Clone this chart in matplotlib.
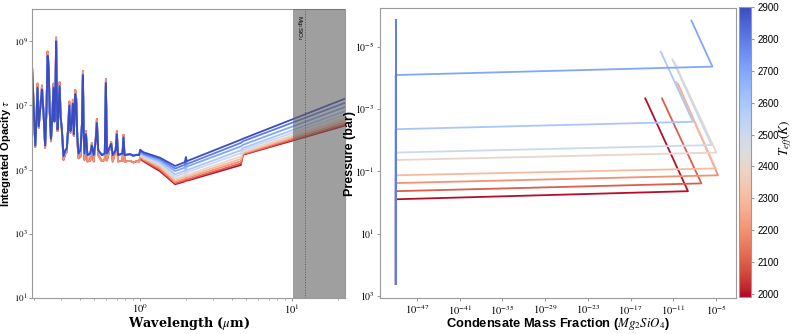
import numpy as np
import matplotlib
matplotlib.use("Agg")
import matplotlib.pyplot as plt
from matplotlib import ticker
from matplotlib.colors import Normalize
from matplotlib.cm import ScalarMappable

plt.rcParams['mathtext.fontset'] = 'stix'
plt.rcParams['font.family'] = ['Liberation Sans', 'DejaVu Sans']

# -------------------------
# Data
# -------------------------
temps = [2000, 2100, 2200, 2300, 2400, 2500, 2600, 2700, 2800, 2900]
t_min, t_max = 1990, 2900

# visible / spiky part of the opacity spectra (micron, log10 tau)
wl_vis = [0.195, 0.199, 0.204, 0.208, 0.211, 0.215, 0.220, 0.226, 0.231, 0.237,
          0.242, 0.246, 0.250, 0.254, 0.259, 0.264, 0.269, 0.273, 0.277, 0.280,
          0.283, 0.286, 0.290, 0.295, 0.300, 0.305, 0.313, 0.322, 0.329, 0.336,
          0.342, 0.348, 0.355, 0.361, 0.366, 0.370, 0.374, 0.380, 0.386, 0.393,
          0.405, 0.414, 0.420, 0.425, 0.430, 0.440, 0.450, 0.470, 0.481, 0.495,
          0.510, 0.519, 0.530, 0.560, 0.585, 0.595, 0.605, 0.645, 0.660, 0.690,
          0.703, 0.715, 0.765, 0.777, 0.790, 0.860, 0.900, 0.950, 0.985]
vis_hot = [8.00, 7.00, 5.75, 6.60, 7.55, 6.35, 6.90, 7.50, 6.80, 5.75,
           6.90, 8.55, 8.15, 6.80, 5.95, 6.60, 7.55, 6.50, 7.40, 9.00,
           7.30, 6.25, 6.80, 7.60, 6.60, 6.30, 5.42, 5.60, 5.65, 6.30,
           7.00, 6.20, 6.50, 7.05, 6.10, 6.60, 7.35, 7.10, 6.00, 5.50,
           5.60, 6.40, 7.95, 6.20, 5.50, 6.10, 5.45, 5.50, 5.75, 5.45,
           5.90, 6.45, 5.60, 5.45, 5.50, 7.70, 5.50, 5.80, 5.45, 5.60,
           6.10, 5.45, 5.50, 6.00, 5.45, 5.48, 5.43, 5.46, 5.45]
vis_cool = [8.12, 7.05, 5.70, 6.65, 7.68, 6.30, 6.95, 7.62, 6.80, 5.68,
            6.95, 8.68, 8.25, 6.80, 5.88, 6.65, 7.68, 6.50, 7.50, 9.12,
            7.35, 6.20, 6.85, 7.72, 6.60, 6.25, 5.30, 5.50, 5.55, 6.35,
            7.12, 6.15, 6.55, 7.18, 6.05, 6.65, 7.48, 7.20, 5.90, 5.35,
            5.40, 6.45, 8.08, 6.15, 5.30, 6.20, 5.25, 5.28, 5.82, 5.25,
            5.95, 6.58, 5.45, 5.26, 5.30, 7.82, 5.28, 5.85, 5.25, 5.60,
            6.20, 5.25, 5.28, 6.08, 5.25, 5.27, 5.22, 5.26, 5.25]

# infrared tail, one list per Teff (log10 tau)
wl_tail = [1.0, 1.05, 1.35, 1.7, 1.97, 2.0, 2.03, 4.6, 4.75, 22.3]
tau_2000 = [5.34, 5.26, 4.95, 4.54, 4.63, 4.79, 4.65, 5.14, 5.46, 6.37]
tau_2100 = [5.37, 5.29, 4.99, 4.57, 4.66, 4.82, 4.68, 5.19, 5.47, 6.42]
tau_2200 = [5.40, 5.32, 5.04, 4.61, 4.71, 4.87, 4.73, 5.26, 5.50, 6.48]
tau_2300 = [5.43, 5.35, 5.09, 4.66, 4.76, 4.92, 4.78, 5.33, 5.52, 6.55]
tau_2400 = [5.46, 5.38, 5.14, 4.71, 4.81, 4.97, 4.83, 5.41, 5.55, 6.62]
tau_2500 = [5.49, 5.41, 5.19, 4.78, 4.89, 5.05, 4.91, 5.51, 5.61, 6.71]
tau_2600 = [5.52, 5.44, 5.23, 4.85, 4.96, 5.12, 4.98, 5.60, 5.67, 6.82]
tau_2700 = [5.55, 5.47, 5.28, 4.95, 5.06, 5.22, 5.09, 5.72, 5.77, 6.95]
tau_2800 = [5.58, 5.50, 5.33, 5.03, 5.15, 5.31, 5.17, 5.83, 5.88, 7.08]
tau_2900 = [5.62, 5.54, 5.37, 5.11, 5.23, 5.39, 5.26, 5.93, 5.96, 7.21]
tails = [tau_2000, tau_2100, tau_2200, tau_2300, tau_2400,
         tau_2500, tau_2600, tau_2700, tau_2800, tau_2900]

# condensate profiles (log10 mass fraction, log10 pressure in bar)
prof_temps = [2000, 2100, 2200, 2300, 2400, 2500, 2600, 2700]
x_floor = -50
p_bottom = 2.62
p_top = -5.86
p_left = [-0.10, -0.36, -0.62, -0.87, -1.36, -1.60, -2.35, -4.09]
x_right = [-8.94, -7.06, -4.72, -5.05, -4.95, -5.65, -8.24, -5.51]
p_right = [-0.36, -0.61, -0.87, -1.09, -1.60, -1.84, -2.59, -4.36]
x_top = [-14.94, -12.59, -10.34, -10.57, -10.90, -11.13, -12.77, -8.46]
p_end = [-3.34, -3.34, -3.80, -3.87, -4.52, -4.59, -4.84, -5.84]
clear_temp = 2800

# -------------------------
# Figure
# -------------------------
cmap = plt.get_cmap('coolwarm_r')
norm = Normalize(t_min, t_max)
spine_col = '#9a9a9a'

fig = plt.figure(figsize=(7.93, 3.34), dpi=100)
ax1 = fig.add_axes([0.0407, 0.1087, 0.3943, 0.8635])
ax2 = fig.add_axes([0.4792, 0.1078, 0.4489, 0.868])
cax = fig.add_axes([0.9319, 0.1115, 0.0148, 0.8665])

def pow_fmt(v, pos):
    if v <= 0:
        return ''
    return r'$10^{%d}$' % int(round(np.log10(v)))

# (A) opacity spectra
for i, t in enumerate(temps):
    vis = vis_cool if t <= 2200 else vis_hot
    wl = wl_vis + wl_tail
    lt = vis + tails[i]
    ax1.plot(wl, 10 ** np.array(lt), color=cmap(norm(t)), lw=1.3, zorder=2)

ax1.axvspan(10.2, 22.3, color='#606060', alpha=0.6, lw=0, zorder=3)
ax1.axvline(12.2, color='#555555', ls=':', lw=0.7, zorder=4)
ax1.text(11.9, 6.5e9, r'Mg$_2$SiO$_4$', rotation=270, fontsize=4.5,
         ha='right', va='top', zorder=5)

ax1.set_xscale('log')
ax1.set_yscale('log')
ax1.set_xlim(0.195, 22.3)
ax1.set_ylim(1e1, 1e10)
ax1.yaxis.set_major_locator(ticker.FixedLocator([1e1, 1e3, 1e5, 1e7, 1e9]))
ax1.yaxis.set_minor_locator(ticker.NullLocator())
ax1.xaxis.set_major_locator(ticker.FixedLocator([1, 10]))
ax1.xaxis.set_major_formatter(ticker.FuncFormatter(pow_fmt))
ax1.yaxis.set_major_formatter(ticker.FuncFormatter(pow_fmt))
ax1.xaxis.set_minor_formatter(ticker.NullFormatter())
ax1.tick_params(labelsize=6.5, length=2, color=spine_col, pad=1)
ax1.tick_params(axis='x', labelsize=7.5, pad=1.5)
ax1.tick_params(which='minor', length=1.5, color=spine_col)
ax1.set_xlabel(r'Wavelength ($\mu$m)', family='DejaVu Serif', fontweight='bold',
               fontsize=9.2, va='center')
ax1.xaxis.set_label_coords(0.5, -0.09)
ax1.set_ylabel(r'Integrated Opacity $\tau$', fontweight='bold', fontsize=8, va='center')
ax1.yaxis.set_label_coords(-0.085, 0.5)

# (B) condensate mass fraction profiles
for i, t in enumerate(prof_temps):
    xs = [x_floor, x_floor, x_right[i], x_top[i]]
    ps = [p_bottom, p_left[i], p_right[i], p_end[i]]
    ax2.plot(10.0 ** np.array(xs), 10.0 ** np.array(ps), color=cmap(norm(t)), lw=1.3)
ax2.plot(10.0 ** np.array([x_floor, x_floor]), 10.0 ** np.array([p_bottom, p_top]),
         color=cmap(norm(clear_temp)), lw=1.4)

ax2.set_xscale('log')
ax2.set_yscale('log')
ax2.set_xlim(10 ** -52.2, 10 ** -2.2)
ax2.set_ylim(10 ** 3.07, 10 ** -6.24)
ax2.xaxis.set_major_locator(ticker.FixedLocator([10.0 ** e for e in range(-47, 0, 6)]))
ax2.yaxis.set_major_locator(ticker.FixedLocator([1e-5, 1e-3, 1e-1, 1e1, 1e3]))
ax2.xaxis.set_minor_locator(ticker.NullLocator())
ax2.yaxis.set_minor_locator(ticker.NullLocator())
ax2.xaxis.set_major_formatter(ticker.FuncFormatter(pow_fmt))
ax2.yaxis.set_major_formatter(ticker.FuncFormatter(pow_fmt))
ax2.tick_params(labelsize=7, length=2, color=spine_col, pad=2)
ax2.tick_params(axis='x', labelsize=7.5)
ax2.set_xlabel(r'Condensate Mass Fraction ($Mg_2SiO_4$)', fontweight='bold',
               fontsize=9.3, va='center')
ax2.xaxis.set_label_coords(0.5, -0.09)
ax2.set_ylabel('Pressure (bar)', fontweight='bold', fontsize=9, va='center')
ax2.yaxis.set_label_coords(-0.083, 0.5)

for a in (ax1, ax2):
    for s in a.spines.values():
        s.set_color(spine_col)

# colorbar
sm = ScalarMappable(norm=norm, cmap=cmap)
cb = fig.colorbar(sm, cax=cax, ticks=list(range(2000, 3000, 100)))
cb.outline.set_edgecolor(spine_col)
cb.ax.tick_params(labelsize=7, length=2, color=spine_col, pad=3)
cb.set_label(r'$T_{eff}(K)$', fontsize=9.5, va='center')
cb.ax.yaxis.set_label_coords(3.98, 0.55)

fig.savefig('out.png', dpi=100)
